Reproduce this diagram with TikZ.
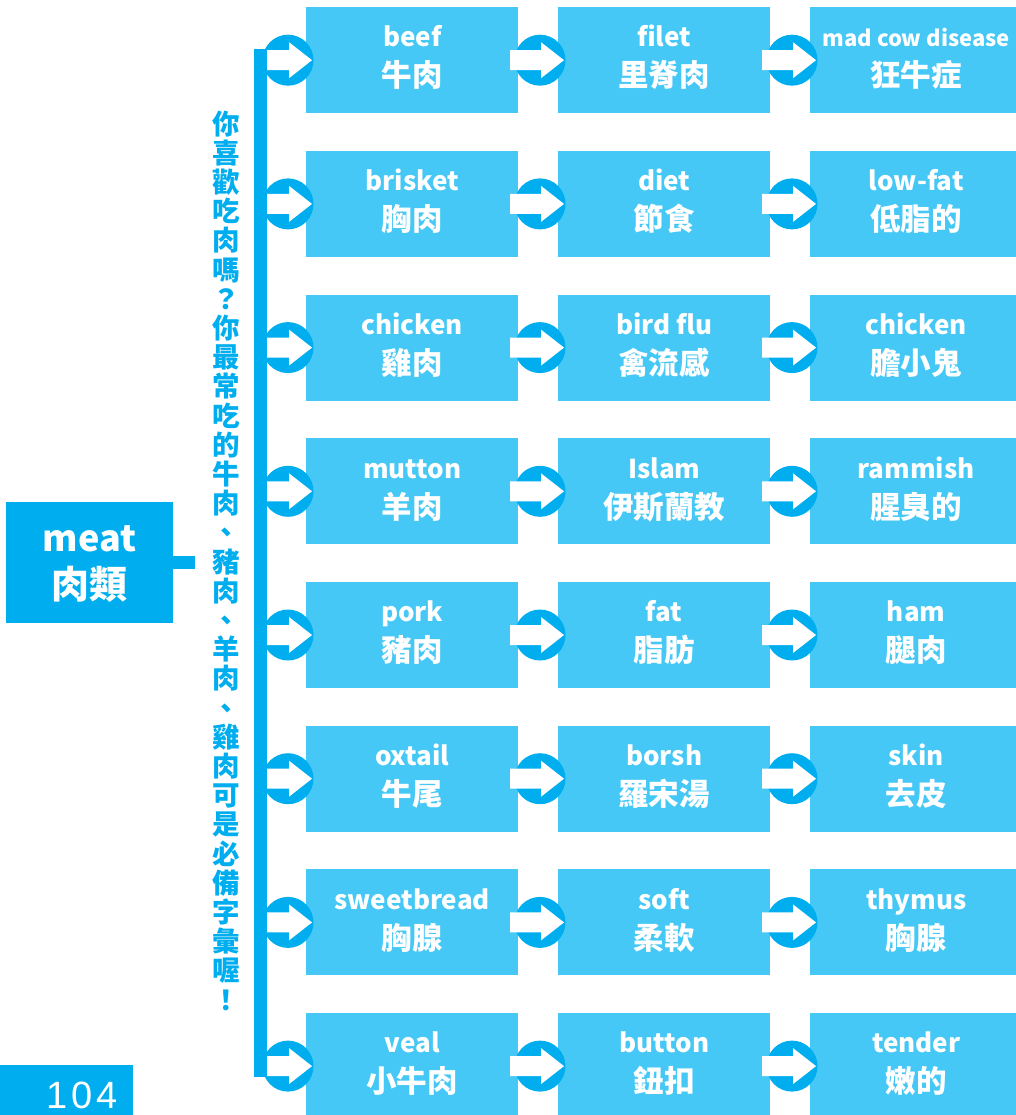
\documentclass[tikz,border=0pt]{standalone}
\usepackage{fontspec}
\setmainfont{Noto Sans CJK TC}
\newfontfamily\numfont{Liberation Sans}[LetterSpace=10]
\definecolor{darkb}{HTML}{00AEEF}
\definecolor{lightb}{HTML}{45C8F5}
\tikzset{
  cellbox/.style={fill=lightb, minimum width=212pt, minimum height=106pt, inner sep=0pt, anchor=north west, draw=none},
  engtxt/.style={text=white, font=\bfseries\fontsize{26}{26}\selectfont, inner sep=0pt, anchor=base},
  chitxt/.style={text=white, font=\bfseries\fontsize{30.5}{30.5}\selectfont, inner sep=0pt, anchor=base},
  bluebar/.style={draw=darkb, line width=13pt},
  pics/arrowicon/.style={code={
    \fill[darkb] (0pt,0pt) circle (25.5pt);
    \fill[white] (-30pt,-10pt) -- (1pt,-10pt) -- (1pt,-18pt) -- (24pt,0pt) -- (1pt,18pt) -- (1pt,10pt) -- (-30pt,10pt) -- cycle;
  }}
}
\newcommand{\mycell}[5]{%
  \node[cellbox] (#1) at (#2,#3) {};
  \node[engtxt] (#1e) at ([yshift=-40pt]#1.north) {#4};
  \node[chitxt] (#1c) at ([yshift=-80pt]#1.north) {#5};
}
\begin{document}
\begin{tikzpicture}[x=1pt,y=-1pt]
\useasboundingbox (0,0) rectangle (1016,1115);
\clip (0,0) rectangle (1016,1115);
% grid of cells
\mycell{b11}{306}{7}{beef}{牛肉}
\mycell{b12}{558}{7}{filet}{里脊肉}
\mycell{b13}{810}{7}{\fontsize{22}{22}\selectfont mad cow disease}{狂牛症}
\mycell{b21}{306}{150.7}{brisket}{胸肉}
\mycell{b22}{558}{150.7}{diet}{節食}
\mycell{b23}{810}{150.7}{low-fat}{低脂的}
\mycell{b31}{306}{294.4}{chicken}{雞肉}
\mycell{b32}{558}{294.4}{bird flu}{禽流感}
\mycell{b33}{810}{294.4}{chicken}{膽小鬼}
\mycell{b41}{306}{438.1}{mutton}{羊肉}
\mycell{b42}{558}{438.1}{Islam}{伊斯蘭教}
\mycell{b43}{810}{438.1}{rammish}{腥臭的}
\mycell{b51}{306}{581.8}{pork}{豬肉}
\mycell{b52}{558}{581.8}{fat}{脂肪}
\mycell{b53}{810}{581.8}{ham}{腿肉}
\mycell{b61}{306}{725.5}{oxtail}{牛尾}
\mycell{b62}{558}{725.5}{borsh}{羅宋湯}
\mycell{b63}{810}{725.5}{skin}{去皮}
\mycell{b71}{306}{869.2}{sweetbread}{胸腺}
\mycell{b72}{558}{869.2}{soft}{柔軟}
\mycell{b73}{810}{869.2}{thymus}{胸腺}
\mycell{b81}{306}{1012.9}{veal}{小牛肉}
\mycell{b82}{558}{1012.9}{button}{鈕扣}
\mycell{b83}{810}{1012.9}{tender}{嫩的}
% arrow icons
\foreach \r in {1,...,8}{
  \foreach \c in {1,2,3}{
    \pic at ([xshift=-18pt]b\r\c.west) {arrowicon};
  }
}
% vertical bar
\draw[bluebar] ([xshift=-45.5pt,yshift=11pt]b11.west) -- ([xshift=-45.5pt,yshift=-11pt]b81.west);
% meat box
\node[fill=darkb, minimum width=167pt, minimum height=121pt, inner sep=0pt] (meat) at (89.5,562.5) {};
\node[text=white, font=\bfseries\fontsize{36}{36}\selectfont, inner sep=0pt, anchor=base] (meate) at ([yshift=-50pt]meat.north) {meat};
\node[text=white, font=\bfseries\fontsize{38}{38}\selectfont, inner sep=0pt, anchor=base] (meatc) at ([yshift=-97pt]meat.north) {肉類};
\coordinate (stubend) at ([xshift=22pt]meat.east);
\draw[bluebar] (meat.east) -- (stubend);
% vertical text
\node[text=darkb, font=\bfseries\fontsize{27.5}{29.2}\selectfont, align=center, inner sep=0pt] (vtext) at (226.5,560.5)
 {你\\喜\\歡\\吃\\肉\\嗎\\？\\你\\最\\常\\吃\\的\\牛\\肉\\、\\豬\\肉\\、\\羊\\肉\\、\\雞\\肉\\可\\是\\必\\備\\字\\彙\\喔\\！};
% page number
\node[fill=darkb, minimum width=133pt, minimum height=50pt, inner sep=0pt, anchor=north west] (pg) at (0,1065) {};
\node[text=white, font=\numfont\fontsize{38}{38}\selectfont, inner sep=0pt] (pgnum) at (82,1095.5) {104};
\end{tikzpicture}
\end{document}
